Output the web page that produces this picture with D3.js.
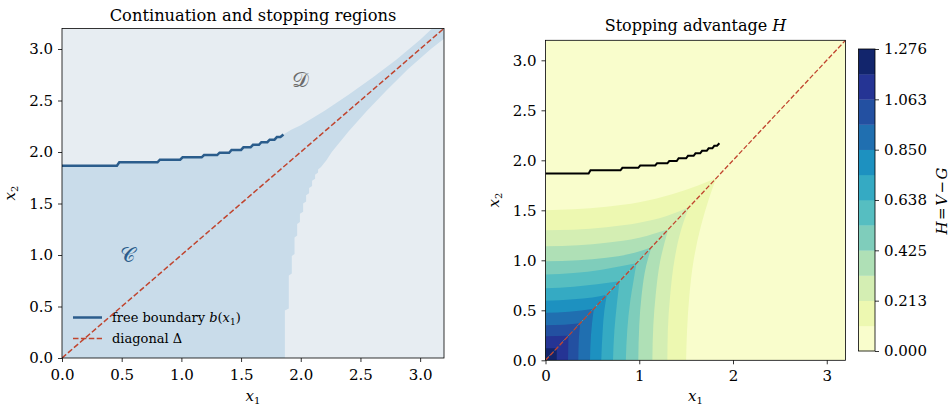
<!DOCTYPE html>
<html>
<head>
<meta charset="utf-8">
<script src="https://cdn.jsdelivr.net/npm/d3@7"></script>
<style>
body { margin: 0; background: #fff; }
text { font-family: "DejaVu Serif", serif; fill: #000; }
.tick text { font-size: 15px; }
</style>
</head>
<body>
<div id="fig"></div>
<script>
// ---- data ----
var domainMax = 3.2;

// free boundary b(x1), stepped as in the grid solution
var boundaryX = [0, 0.46, 0.48, 0.80, 0.82, 0.99, 1.01, 1.17, 1.19, 1.30, 1.32, 1.40, 1.42, 1.50, 1.52, 1.58, 1.60, 1.65, 1.67, 1.72, 1.74, 1.78, 1.80, 1.83, 1.855];
var boundaryY = [1.867, 1.867, 1.90, 1.90, 1.925, 1.925, 1.948, 1.948, 1.97, 1.97, 1.993, 1.993, 2.02, 2.02, 2.045, 2.045, 2.07, 2.07, 2.095, 2.095, 2.12, 2.12, 2.145, 2.145, 2.17];

// upper edge of the continuation band around the diagonal (beyond the boundary)
var bandEdgeX = [1.92, 2.0, 2.2, 2.4, 2.6, 2.8, 3.0, 3.1];
var bandEdgeY = [2.215, 2.26, 2.40, 2.555, 2.72, 2.895, 3.09, 3.2];

// contour levels of H = V - G
var levels = [0, 0.1063, 0.2126, 0.3189, 0.4252, 0.5315, 0.6378, 0.7440, 0.8503, 0.9566, 1.0629, 1.1692, 1.2755];
var cbarTicks = [0, 0.2126, 0.4252, 0.6378, 0.8503, 1.0629, 1.2755];
var cbarLabels = ["0.000", "0.213", "0.425", "0.638", "0.850", "1.063", "1.276"];

// level curves above the diagonal, from the x2 axis to the diagonal (H symmetric in x1, x2)
var hContours = [
  [[0, 1.50], [0.3, 1.51], [0.65, 1.535], [1.0, 1.58], [1.35, 1.66], [1.62, 1.745], [1.82, 1.82]],
  [[0, 1.30], [0.3, 1.305], [0.65, 1.33], [1.0, 1.375], [1.3, 1.445], [1.53, 1.53]],
  [[0, 1.14], [0.35, 1.15], [0.65, 1.175], [1.0, 1.225], [1.31, 1.31]],
  [[0, 0.99], [0.35, 1.0], [0.65, 1.025], [0.95, 1.075], [1.13, 1.13]],
  [[0, 0.857], [0.3, 0.872], [0.6, 0.905], [0.8, 0.94], [0.97, 0.97]],
  [[0, 0.72], [0.3, 0.735], [0.55, 0.76], [0.79, 0.79]],
  [[0, 0.595], [0.3, 0.61], [0.5, 0.628], [0.655, 0.655]],
  [[0, 0.475], [0.25, 0.485], [0.515, 0.515]],
  [[0, 0.35], [0.2, 0.355], [0.37, 0.37]],
  [[0, 0.24], [0.245, 0.245]],
  [[0, 0.12], [0.12, 0.12]]
];

var leftTicks = [0, 0.5, 1.0, 1.5, 2.0, 2.5, 3.0];
var rightXTicks = [0, 1, 2, 3];

// ---- colours ----
var colC = "#c9dcea", colD = "#e7edf2";
var colBoundary = "#2b5d8c", colDiag = "#c0452f";
var ylgnbu = d3.piecewise(d3.interpolateRgb, ["#ffffd9", "#edf8b1", "#c7e9b4", "#7fcdbb", "#41b6c4", "#1d91c0", "#225ea8", "#253494", "#081d58"]);
var nBands = levels.length - 1;
function bandColor(k) { return ylgnbu((k + 0.5) / nBands); }

var svg = d3.select("#fig").append("svg")
    .attr("width", 950)
    .attr("height", 407);

var defs = svg.append("defs");

function drawAxes(g, x, y, xTicks, xFmt, yTicks, xPad) {
  var h = y.range()[0];
  var xa = g.append("g")
      .attr("transform", "translate(0," + h + ")")
      .call(d3.axisBottom(x).tickValues(xTicks).tickFormat(xFmt).tickSize(4).tickPadding(xPad));
  var ya = g.append("g")
      .attr("transform", "translate(" + x.range()[0] + ",0)")
      .call(d3.axisLeft(y).tickValues(yTicks).tickFormat(d3.format(".1f")).tickSize(4).tickPadding(5));
  [xa, ya].forEach(function(a) {
    a.select(".domain").remove();
    a.selectAll(".tick line").attr("stroke", "#000").attr("stroke-width", 0.8);
    a.selectAll(".tick text").attr("fill", "#000");
  });
  g.append("rect")
      .attr("x", x.range()[0]).attr("y", y.range()[1])
      .attr("width", x.range()[1] - x.range()[0])
      .attr("height", y.range()[0] - y.range()[1])
      .attr("fill", "none").attr("stroke", "#000").attr("stroke-width", 0.8);
}

function subLabel(g, base, sub, tx, ty, rot) {
  var t = g.append("text")
      .attr("transform", "translate(" + tx + "," + ty + ")" + (rot ? " rotate(-90)" : ""))
      .attr("text-anchor", "middle")
      .style("font-size", "15px");
  t.append("tspan").attr("font-style", "italic").text(base);
  t.append("tspan").attr("font-size", "10px").attr("dy", 2.5).text(sub);
}

// ================= left panel =================
var xL = d3.scaleLinear().domain([0, domainMax]).range([62, 444]);
var yL = d3.scaleLinear().domain([0, domainMax]).range([358, 28.4]);
var left = svg.append("g");

defs.append("clipPath").attr("id", "clipL").append("rect")
    .attr("x", 62).attr("y", 28.4).attr("width", 382).attr("height", 329.6);

var plotL = left.append("g").attr("clip-path", "url(#clipL)");
plotL.append("rect")
    .attr("x", 62).attr("y", 28.4).attr("width", 382).attr("height", 329.6)
    .attr("fill", colD);

// continuation region: upper edge (boundary then band), mirrored for the lower edge
var upperEdge = boundaryX.map(function(d, i) { return [d, boundaryY[i]]; })
    .concat(bandEdgeX.map(function(d, i) { return [d, bandEdgeY[i]]; }));
var lowerEdge = upperEdge.map(function(p) { return [p[1], p[0]]; }).reverse();
var regionC = [[0, 0]].concat(upperEdge, [[domainMax, domainMax]], lowerEdge);

var regionLine = d3.line()
    .x(function(p) { return xL(p[0]); })
    .y(function(p) { return yL(p[1]); });
plotL.append("path")
    .datum(regionC)
    .attr("fill", colC)
    .attr("d", function(d) { return regionLine(d) + "Z"; });

plotL.append("line")
    .attr("x1", xL(0)).attr("y1", yL(0))
    .attr("x2", xL(domainMax)).attr("y2", yL(domainMax))
    .attr("stroke", colDiag).attr("stroke-width", 1.5)
    .attr("stroke-dasharray", "5.5,2.4");

var bLineL = d3.line()
    .x(function(d) { return xL(d); })
    .y(function(d, i) { return yL(boundaryY[i]); });
plotL.append("path")
    .datum(boundaryX)
    .attr("fill", "none")
    .attr("stroke", colBoundary).attr("stroke-width", 2.5)
    .attr("d", bLineL);

plotL.append("text")
    .attr("x", xL(2.0)).attr("y", yL(2.7)).attr("dy", "0.35em")
    .attr("text-anchor", "middle")
    .style("font-size", "21px").style("fill", "#6b6b6b")
    .text("\uD835\uDC9F");
plotL.append("text")
    .attr("x", xL(0.55)).attr("y", yL(1.0)).attr("dy", "0.35em")
    .attr("text-anchor", "middle")
    .style("font-size", "21px").style("fill", colBoundary)
    .text("\uD835\uDC9E");

drawAxes(left, xL, yL, leftTicks, d3.format(".1f"), leftTicks, 7.5);

left.append("text")
    .attr("x", 253).attr("y", 21)
    .attr("text-anchor", "middle")
    .style("font-size", "16.3px")
    .text("Continuation and stopping regions");
subLabel(left, "x", "1", 253, 401, false);
subLabel(left, "x", "2", 15, 193, true);

// legend
var leg = left.append("g");
leg.append("line").attr("x1", 73).attr("x2", 102).attr("y1", 317.5).attr("y2", 317.5)
    .attr("stroke", colBoundary).attr("stroke-width", 2.5);
leg.append("line").attr("x1", 73).attr("x2", 102).attr("y1", 338.5).attr("y2", 338.5)
    .attr("stroke", colDiag).attr("stroke-width", 1.5).attr("stroke-dasharray", "5.5,2.4");
var lt1 = leg.append("text").attr("x", 112).attr("y", 322).style("font-size", "13px");
lt1.append("tspan").text("free boundary ");
lt1.append("tspan").attr("font-style", "italic").text("b");
lt1.append("tspan").text("(");
lt1.append("tspan").attr("font-style", "italic").text("x");
lt1.append("tspan").attr("font-size", "9px").attr("dy", 3).text("1");
lt1.append("tspan").attr("dy", -3).text(")");
leg.append("text").attr("x", 112).attr("y", 343).style("font-size", "13px").text("diagonal \u0394");

// ================= right panel =================
var xR = d3.scaleLinear().domain([0, domainMax]).range([545.5, 845.5]);
var yR = d3.scaleLinear().domain([0, domainMax]).range([360.3, 40.3]);
var right = svg.append("g");

defs.append("clipPath").attr("id", "clipR").append("rect")
    .attr("x", 545.5).attr("y", 40.3).attr("width", 300).attr("height", 320);
defs.append("clipPath").attr("id", "clipUp").append("polygon")
    .attr("points", [[xR(0), yR(0) + 1.5], [xR(0), yR(domainMax)], [xR(domainMax), yR(domainMax)], [xR(domainMax), yR(domainMax) + 1.5]].join(" "));
defs.append("clipPath").attr("id", "clipLow").append("polygon")
    .attr("points", [[xR(0), yR(0)], [xR(domainMax), yR(0)], [xR(domainMax), yR(domainMax)]].join(" "));

var plotR = right.append("g").attr("clip-path", "url(#clipR)");
plotR.append("rect")
    .attr("x", 545.5).attr("y", 40.3).attr("width", 300).attr("height", 320)
    .attr("fill", bandColor(0));

var areaUp = d3.area()
    .x(function(d) { return xR(d[0]); })
    .y0(yR(0))
    .y1(function(d) { return yR(d[1]); })
    .curve(d3.curveMonotoneX);
var areaLow = d3.area()
    .y(function(d) { return yR(d[0]); })
    .x0(xR(0))
    .x1(function(d) { return xR(d[1]); })
    .curve(d3.curveMonotoneY);

var upG = plotR.append("g").attr("clip-path", "url(#clipUp)");
var lowG = plotR.append("g").attr("clip-path", "url(#clipLow)");
upG.selectAll("path").data(hContours).enter().append("path")
    .attr("fill", function(d, i) { return bandColor(i + 1); })
    .attr("d", areaUp);
lowG.selectAll("path").data(hContours).enter().append("path")
    .attr("fill", function(d, i) { return bandColor(i + 1); })
    .attr("d", areaLow);

plotR.append("path")
    .datum(boundaryX)
    .attr("fill", "none")
    .attr("stroke", "#000").attr("stroke-width", 2)
    .attr("d", d3.line()
      .x(function(d) { return xR(d); })
      .y(function(d, i) { return yR(boundaryY[i]); }));

plotR.append("line")
    .attr("x1", xR(0)).attr("y1", yR(0))
    .attr("x2", xR(domainMax)).attr("y2", yR(domainMax))
    .attr("stroke", colDiag).attr("stroke-width", 1.3)
    .attr("stroke-dasharray", "4.8,2.1");

drawAxes(right, xR, yR, rightXTicks, d3.format("d"), leftTicks, 6);

var rt = right.append("text")
    .attr("x", 695.5).attr("y", 31)
    .attr("text-anchor", "middle")
    .style("font-size", "16px");
rt.append("tspan").text("Stopping advantage ");
rt.append("tspan").attr("font-style", "italic").text("H");
subLabel(right, "x", "1", 695.5, 401, false);
subLabel(right, "x", "2", 499, 200, true);

// ================= colour bar =================
var yC = d3.scaleLinear().domain([0, levels[levels.length - 1]]).range([351, 49]);
var cbar = svg.append("g");
cbar.selectAll("rect.band")
    .data(levels.slice(0, -1))
    .enter().append("rect")
    .attr("class", "band")
    .attr("x", 858.5).attr("width", 16.5)
    .attr("y", function(d, i) { return yC(levels[i + 1]); })
    .attr("height", function(d, i) { return yC(d) - yC(levels[i + 1]) + 0.3; })
    .attr("fill", function(d, i) { return bandColor(i); });
cbar.append("rect")
    .attr("x", 858.5).attr("y", 49).attr("width", 16.5).attr("height", 302)
    .attr("fill", "none").attr("stroke", "#000").attr("stroke-width", 0.8);
var ca = cbar.append("g")
    .attr("transform", "translate(875,0)")
    .call(d3.axisRight(yC).tickValues(cbarTicks)
      .tickFormat(function(d, i) { return cbarLabels[i]; })
      .tickSize(4).tickPadding(5));
ca.select(".domain").remove();
ca.selectAll(".tick line").attr("stroke", "#000").attr("stroke-width", 0.8);
ca.selectAll(".tick text").attr("fill", "#000");

var cl = cbar.append("text")
    .attr("transform", "translate(947,201) rotate(-90)")
    .attr("text-anchor", "middle")
    .style("font-size", "15px");
cl.append("tspan").attr("font-style", "italic").text("H");
cl.append("tspan").attr("dx", 1.5).text("=");
cl.append("tspan").attr("dx", 1.5).attr("font-style", "italic").text("V");
cl.append("tspan").attr("dx", 1.5).text("\u2212");
cl.append("tspan").attr("dx", 1.5).attr("font-style", "italic").text("G");
</script>
</body>
</html>
